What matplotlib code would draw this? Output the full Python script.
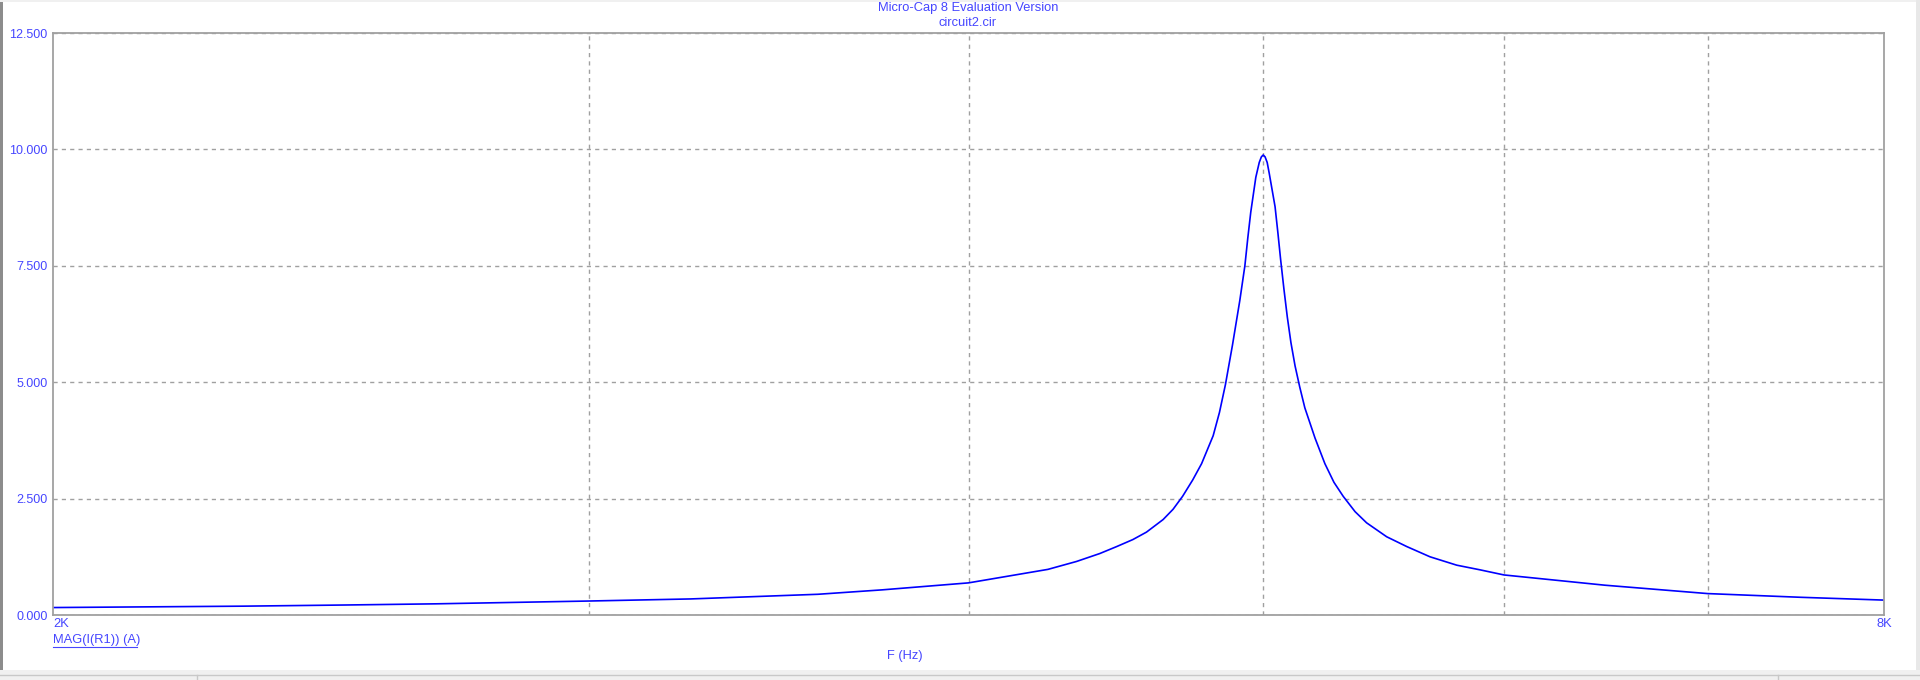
import matplotlib
matplotlib.use("Agg")
import matplotlib.pyplot as plt
from matplotlib.lines import Line2D
from matplotlib.patches import Rectangle
from matplotlib.ticker import FixedLocator, NullLocator

# AC sweep
freq_hz = [2000, 2311, 2497, 2673, 3000, 3241, 3569, 3747, 4000, 4248,
           4341, 4418, 4475, 4530, 4577, 4635, 4670, 4704, 4740, 4772,
           4814, 4837, 4859, 4885, 4912, 4931, 4942, 4953, 4972, 4985,
           4993, 5000, 5007, 5015, 5023, 5045, 5056, 5066, 5079, 5092,
           5106, 5122, 5140, 5160, 5200, 5239, 5275, 5312, 5360, 5407,
           5490, 5574, 5673, 5789, 5892, 6000, 6476, 7000, 7513, 8000]
mag_i_r1 = [0.16, 0.19, 0.215, 0.24, 0.30, 0.345, 0.445, 0.54, 0.69, 0.98,
            1.15, 1.32, 1.47, 1.62, 1.78, 2.05, 2.27, 2.55, 2.9, 3.25,
            3.85, 4.35, 4.95, 5.8, 6.75, 7.5, 8.1, 8.65, 9.4, 9.72,
            9.84, 9.88, 9.84, 9.72, 9.48, 8.77, 8.2, 7.65, 7.0, 6.4,
            5.85, 5.35, 4.9, 4.45, 3.8, 3.25, 2.85, 2.55, 2.22, 1.98,
            1.68, 1.47, 1.25, 1.07, 0.97, 0.86, 0.64, 0.46, 0.38, 0.32]

y_ticks = [0.0, 2.5, 5.0, 7.5, 10.0, 12.5]
x_grid = [3000, 4000, 5000, 6000, 7000]

blue_txt = "#4646ff"
grid_col = "#a0a0a0"
W, H = 1920, 680

plt.rcParams["font.family"] = ["Liberation Sans", "DejaVu Sans"]
fig = plt.figure(figsize=(W / 100, H / 100), dpi=100)
fig.patch.set_facecolor("white")

left, right, top, bottom = 53, 1884, 33, 615
ax = fig.add_axes([left / W, 1 - bottom / H, (right - left) / W, (bottom - top) / H])
ax.plot(freq_hz, mag_i_r1, color="#0000ff", lw=1.2)
ax.set_xscale("log")
ax.set_xlim(2000, 8000)
ax.set_ylim(0, 12.5)

ax.xaxis.set_major_locator(FixedLocator(x_grid))
ax.xaxis.set_minor_locator(NullLocator())
ax.set_xticklabels([])
ax.set_yticks(y_ticks)
ax.set_yticklabels(["%.3f" % v for v in y_ticks], color=blue_txt, fontsize=9)
ax.tick_params(length=0, pad=4)
ax.grid(True, color=grid_col, ls=(0, (3, 3)), lw=1)
for s in ax.spines.values():
    s.set_color(grid_col)
    s.set_linewidth(1.3)

def fx(px):
    return px / W

def fy(py):
    return 1 - py / H

fig.text(fx(968), fy(8), "Micro-Cap 8 Evaluation Version", color=blue_txt,
         fontsize=9.3, ha="center", va="center")
fig.text(fx(968), fy(23), "circuit2.cir", color=blue_txt,
         fontsize=9.3, ha="center", va="center")
fig.text(fx(53), fy(624), "2K", color=blue_txt, fontsize=9.3, ha="left", va="center")
fig.text(fx(1884), fy(624), "8K", color=blue_txt, fontsize=9.3, ha="center", va="center")
fig.text(fx(53), fy(640), "MAG(I(R1)) (A)", color=blue_txt, fontsize=9.3,
         ha="left", va="center")
fig.lines.append(Line2D([fx(53), fx(137)], [fy(647), fy(647)], color=blue_txt,
                        lw=0.8, transform=fig.transFigure))
fig.text(fx(905), fy(656), "F (Hz)", color=blue_txt, fontsize=9.3,
         ha="center", va="center")

# window frame bits
fig.patches.append(Rectangle((0, 0), fx(3), 1, transform=fig.transFigure,
                             color="#8c8c8c", lw=0))
fig.patches.append(Rectangle((0, 1 - 2 / H), 1, 2 / H, transform=fig.transFigure,
                             color="#f0f0f0", lw=0))
fig.patches.append(Rectangle((fx(1916), 0), fx(4), 1, transform=fig.transFigure,
                             color="#e8e8e8", lw=0))
fig.patches.append(Rectangle((0, 0), 1, fy(670), transform=fig.transFigure,
                             color="#f0f0f0", lw=0))
for x0 in [197, 1778]:
    fig.lines.append(Line2D([fx(x0), fx(x0)], [0, fy(675)], color="#c8c8c8",
                            lw=1, transform=fig.transFigure))
fig.lines.append(Line2D([0, 1], [fy(675), fy(675)], color="#c8c8c8", lw=1,
                        transform=fig.transFigure))

fig.savefig("out.png", dpi=100)
